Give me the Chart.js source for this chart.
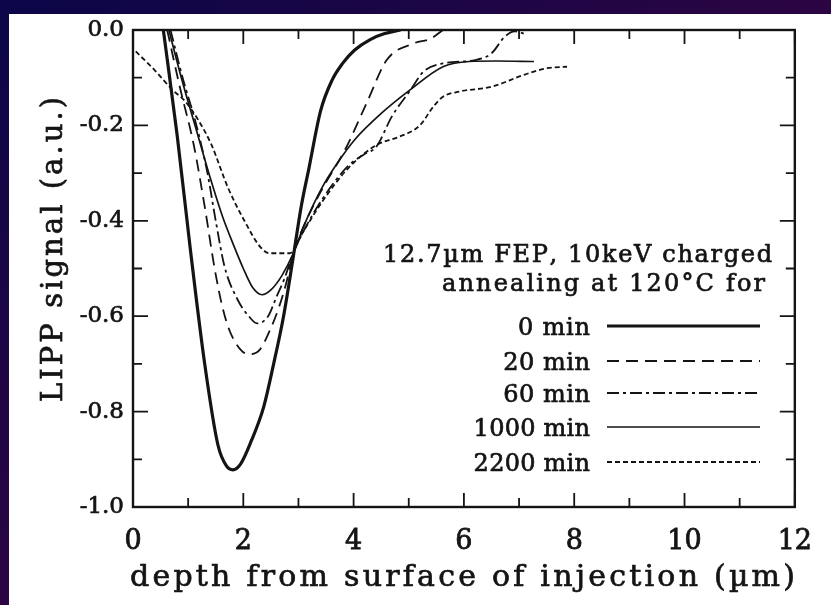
<!DOCTYPE html>
<html>
<head>
<meta charset="utf-8">
<script src="https://cdn.jsdelivr.net/npm/chart.js@4.4.1/dist/chart.umd.min.js"></script>
<style>
html,body{margin:0;padding:0;width:831px;height:605px;overflow:hidden;}
body{background:linear-gradient(to bottom right,#0a0648 0%,#2c0543 50%,#3a0540 100%);}
#paper{position:absolute;left:9px;top:14px;right:0;bottom:0;background:#fff;}
#c{position:absolute;left:0;top:0;}
</style>
</head>
<body>
<div id="paper"></div>
<canvas id="c" width="831" height="605"></canvas>
<script>
// series: depth (um) and LIPP signal (a.u.)
const seriesNames = ['0 min','20 min','60 min','1000 min','2200 min'];

const depth0  = [0.55,0.8,1.04,1.3,1.54,1.7,1.81,1.95,2.15,2.37,2.55,2.73,2.9,3.05,3.19,3.4,3.61,3.8,4.02,4.3,4.55,4.85];
const signal0 = [0,-0.22,-0.46,-0.70,-0.87,-0.915,-0.922,-0.91,-0.86,-0.79,-0.70,-0.60,-0.48,-0.37,-0.29,-0.17,-0.105,-0.07,-0.042,-0.02,-0.008,0];

const depth20  = [0.62,0.85,1.1,1.3,1.48,1.62,1.75,1.95,2.1,2.3,2.48,2.65,2.78,2.9,3.1,3.4,3.85,4.26,4.6,5.09,5.4,5.62];
const signal20 = [0,-0.12,-0.24,-0.37,-0.50,-0.58,-0.63,-0.67,-0.68,-0.67,-0.63,-0.58,-0.53,-0.47,-0.41,-0.34,-0.25,-0.147,-0.063,-0.028,-0.018,0];

const depth60  = [0.68,0.9,1.15,1.35,1.5,1.66,1.9,2.1,2.25,2.45,2.6,2.75,2.9,3.1,3.43,3.9,4.2,4.41,4.7,5.03,5.27,5.62,6.2,6.5,6.74,6.92,7.15];
const signal60 = [0,-0.1,-0.2,-0.3,-0.4,-0.496,-0.566,-0.60,-0.615,-0.60,-0.56,-0.52,-0.47,-0.42,-0.355,-0.285,-0.26,-0.245,-0.18,-0.126,-0.087,-0.07,-0.063,-0.049,-0.014,-0.003,-0.01];

const depth1000  = [0.65,0.9,1.15,1.4,1.62,1.82,2.0,2.17,2.34,2.5,2.7,2.9,3.1,3.43,3.7,4.02,4.5,5.03,5.62,6.09,6.6,7.27];
const signal1000 = [0,-0.11,-0.21,-0.31,-0.39,-0.45,-0.50,-0.54,-0.555,-0.545,-0.515,-0.47,-0.41,-0.33,-0.28,-0.23,-0.175,-0.125,-0.077,-0.066,-0.065,-0.066];

const depth2200  = [0.05,0.4,0.71,0.95,1.19,1.42,1.72,2.02,2.31,2.48,2.84,3.1,3.43,3.9,4.43,4.8,5.2,5.45,5.62,5.92,6.5,7.09,7.51,7.87];
const signal2200 = [-0.045,-0.085,-0.125,-0.15,-0.19,-0.24,-0.33,-0.40,-0.455,-0.468,-0.468,-0.42,-0.36,-0.29,-0.24,-0.225,-0.20,-0.16,-0.14,-0.129,-0.119,-0.094,-0.08,-0.077];

// axis ticks
const xMajor = [0,2,4,6,8,10,12];
const xMinor = [1,3,5,7,9,11];
const yMajor = [0,-0.2,-0.4,-0.6,-0.8,-1.0];
const yMinor = [-0.1,-0.3,-0.5,-0.7,-0.9];

const toPts = (xs, ys) => xs.map((v,i)=>({x:v, y:ys[i]}));
const ink = '#141414';

const styles = [
  {borderWidth:3.2, borderDash:[]},
  {borderWidth:1.8, borderDash:[12,7]},
  {borderWidth:1.8, borderDash:[12,4,3,4]},
  {borderWidth:1.7, borderDash:[]},
  {borderWidth:1.8, borderDash:[5,3]}
];
const allData = [toPts(depth0,signal0),toPts(depth20,signal20),toPts(depth60,signal60),toPts(depth1000,signal1000),toPts(depth2200,signal2200)];

const datasets = allData.map((d,i)=>({
  label: seriesNames[i],
  data: d,
  showLine: true,
  borderColor: ink,
  backgroundColor: ink,
  pointRadius: 0,
  cubicInterpolationMode: 'monotone',
  borderWidth: styles[i].borderWidth,
  borderDash: styles[i].borderDash
}));

// draw a string stretched between left and right, lightly stroked to look like the scan
function fitText(ctx, str, left, right, base, font){
  ctx.font = font;
  const chars = [...str];
  const ws = chars.map(c=>ctx.measureText(c).width);
  const total = ws.reduce((s,w)=>s+w,0);
  const gap = chars.length>1 ? (right-left-total)/(chars.length-1) : 0;
  let xx = left;
  chars.forEach((c,i)=>{
    ctx.fillText(c, xx, base);
    ctx.strokeText(c, xx, base);
    xx += ws[i]+gap;
  });
}

const SERIF = '"DejaVu Serif", "Liberation Serif", serif';

const framePlugin = {
  id:'frame',
  afterDatasetsDraw(chart){
    const {ctx, chartArea:a, scales:{x,y}} = chart;
    ctx.save();
    ctx.strokeStyle = ink;
    ctx.lineWidth = 2.4;
    ctx.strokeRect(a.left, a.top, a.right-a.left, a.bottom-a.top);
    ctx.lineWidth = 1.8;
    ctx.beginPath();
    const tx = (v,len)=>{ const p=x.getPixelForValue(v); ctx.moveTo(p,a.bottom); ctx.lineTo(p,a.bottom-len); ctx.moveTo(p,a.top); ctx.lineTo(p,a.top+len); };
    const ty = (v,len)=>{ const p=y.getPixelForValue(v); ctx.moveTo(a.left,p); ctx.lineTo(a.left+len,p); ctx.moveTo(a.right,p); ctx.lineTo(a.right-len,p); };
    xMajor.forEach(v=>tx(v,14)); xMinor.forEach(v=>tx(v,9));
    yMajor.forEach(v=>ty(v,15)); yMinor.forEach(v=>ty(v,9));
    ctx.stroke();

    // texts
    ctx.fillStyle = ink;
    ctx.textBaseline = 'alphabetic';
    ctx.textAlign = 'left';
    ctx.lineWidth = 0.7;
    fitText(ctx, '12.7µm FEP, 10keV charged', 383, 772, 262, '24px '+SERIF);
    fitText(ctx, 'annealing at 120°C for', 442, 765, 291, '24px '+SERIF);

    const legY = [326,361,393,427,462];
    chart.data.datasets.forEach((ds,i)=>{
      const n = ds.label.length;
      ctx.lineWidth = 0.7;
      ctx.setLineDash([]);
      fitText(ctx, ds.label, 590-n*14.8+2, 590, legY[i]+9, '24px '+SERIF);
      ctx.lineWidth = ds.borderWidth;
      ctx.setLineDash(ds.borderDash);
      ctx.beginPath();
      ctx.moveTo(607, legY[i]); ctx.lineTo(760, legY[i]);
      ctx.stroke();
    });
    ctx.setLineDash([]);
    ctx.lineWidth = 0.7;

    fitText(ctx, 'depth from surface of injection (µm)', 130, 795, 586, '30px '+SERIF);

    ctx.save();
    ctx.translate(62, 402);
    ctx.rotate(-Math.PI/2);
    fitText(ctx, 'LIPP signal (a.u.)', 0, 305, 0, '29px '+SERIF);
    ctx.restore();
    ctx.restore();
  }
};

new Chart(document.getElementById('c'), {
  type: 'scatter',
  data: { datasets },
  options: {
    responsive: false,
    animation: false,
    layout: { padding: { top: 30, right: 21, left: 0, bottom: 0 } },
    plugins: { legend: { display: false }, tooltip: { enabled: false } },
    scales: {
      x: {
        type: 'linear', min: 0, max: 12,
        afterBuildTicks: s => { s.ticks = xMajor.map(v=>({value:v})); },
        afterFit: s => { s.height = 98; },
        grid: { display: false, drawTicks: false },
        border: { display: false },
        ticks: { color: ink, padding: 19, textStrokeColor: ink, textStrokeWidth: 0.8,
                 font: { family: SERIF, size: 27 }, callback: v => String(v) }
      },
      y: {
        type: 'linear', min: -1, max: 0,
        afterBuildTicks: s => { s.ticks = yMajor.map(v=>({value:v})); },
        afterFit: s => { s.width = 133; },
        grid: { display: false, drawTicks: false },
        border: { display: false },
        ticks: { color: ink, padding: 9, textStrokeColor: ink, textStrokeWidth: 0.7,
                 font: { family: SERIF, size: 23 }, callback: v => Number(v).toFixed(1) }
      }
    }
  },
  plugins: [framePlugin]
});
</script>
</body>
</html>
